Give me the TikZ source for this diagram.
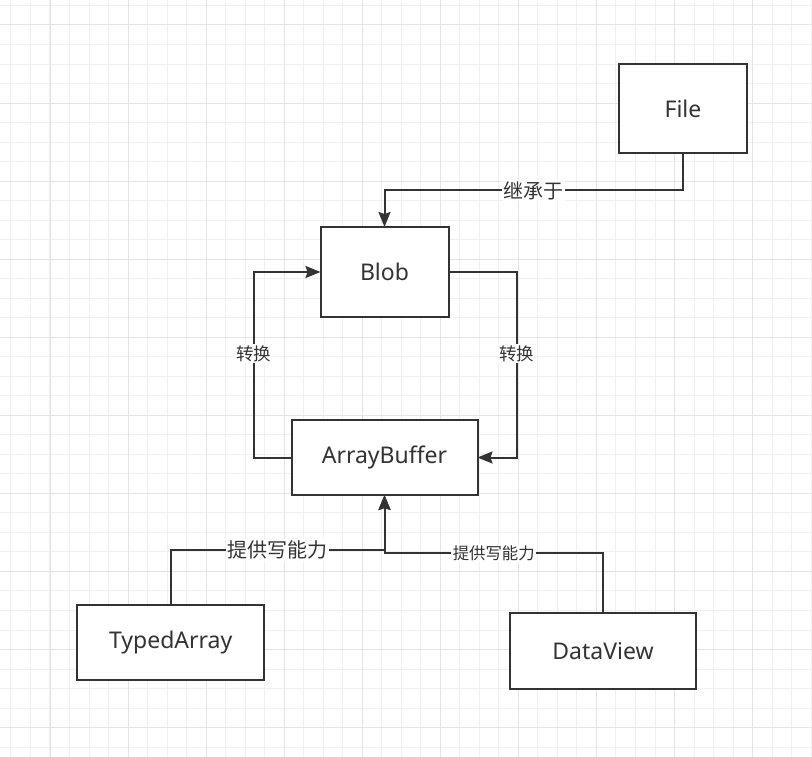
\documentclass[tikz,border=0pt]{standalone}
\usepackage{fontspec}
\setmainfont{Noto Sans}
\newfontfamily\cjk{Noto Sans CJK SC}
\usetikzlibrary{arrows.meta}
\definecolor{ink}{HTML}{333333}
\definecolor{gminor}{HTML}{F0F0F0}
\definecolor{gmajor}{HTML}{E4E4E4}
\tikzset{
  box/.style={draw=ink, line width=2pt, fill=white, rectangle, inner sep=0pt, outer sep=0pt,
    text=ink, font=\fontsize{23}{27}\selectfont},
  conn/.style={draw=ink, line width=2pt, -{Stealth[length=15pt, width=12pt, inset=2pt]}},
  lbl/.style={fill=white, inner sep=1.5pt, text=ink},
  lblA/.style={lbl, font=\cjk\fontsize{20}{22}\selectfont},
  lblC/.style={lbl, font=\cjk\fontsize{17.5}{20}\selectfont},
  lblB/.style={lbl, font=\cjk\fontsize{16.4}{18}\selectfont},
  gridminor/.style={draw=gminor, line width=1pt},
  gridmajor/.style={draw=gmajor, line width=1pt},
}
\begin{document}
\begin{tikzpicture}[x=1pt, y=-1pt]
\useasboundingbox (0,0) rectangle (812,757);
\fill[white] (0,0) rectangle (812,757);
% grid
\foreach \i in {0,...,41} {\draw[gridminor] ({10.96+\i*19.517},0) -- ({10.96+\i*19.517},757);}
\foreach \i in {0,...,39} {\draw[gridminor] (0,{5.48+\i*19.517}) -- (812,{5.48+\i*19.517});}
\foreach \i in {0,...,9} {\draw[gridmajor] ({50+\i*78.07},0) -- ({50+\i*78.07},757);}
\foreach \i in {0,...,9} {\draw[gridmajor] (0,{25+\i*78.07}) -- (812,{25+\i*78.07});}
% boxes
\node[box, minimum width=128pt, minimum height=89pt] (file) at (683,108.5) {File};
\node[box, minimum width=128pt, minimum height=90pt] (blob) at (384.5,272) {Blob};
\node[box, minimum width=186pt, minimum height=75pt] (ab) at (384.5,457.5) {ArrayBuffer};
\node[box, minimum width=186.5pt, minimum height=75.5pt] (ta) at (170.7,642.3) {TypedArray};
\node[box, minimum width=186pt, minimum height=76pt] (dv) at (603,650.7) {DataView};
% connectors
\draw[conn] (file.south) -- ++(0,37.5) -| node[lblA, pos=0.25] {继承于} (blob.north);
\draw[conn] (blob.east) -- ++(68,0) |- node[lblC, pos=0.22] {转换} (ab.east);
\draw[conn] (ab.west) -- ++(-38,0) |- node[lblC, pos=0.28] {转换} (blob.west);
\draw[conn] (ta.north) -- ++(0,-54.5) -| node[lblA, pos=0.25] {提供写能力} (ab.south);
\draw[conn] (dv.north) -- ++(0,-59.4) -| node[lblB, pos=0.25] {提供写能力} (ab.south);
\end{tikzpicture}
\end{document}
